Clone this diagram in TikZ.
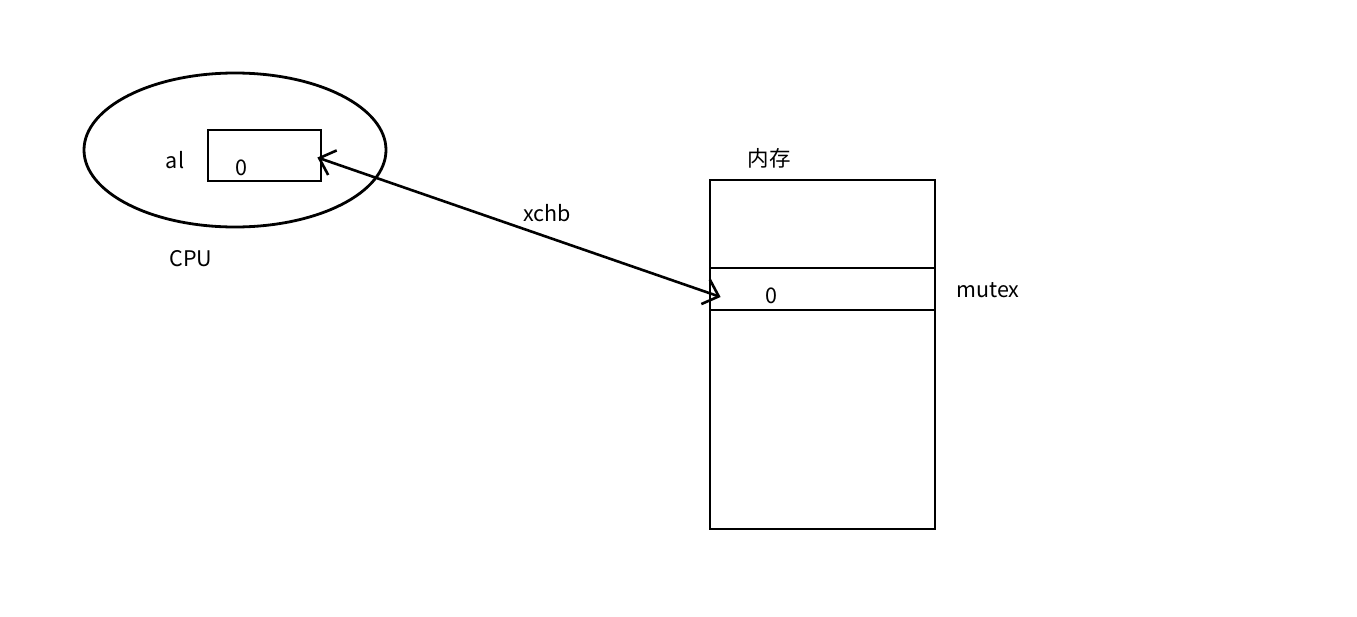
\documentclass[tikz,border=0pt]{standalone}
\usepackage{fontspec}
\setmainfont{Noto Sans CJK SC}
\usepackage{tikz}
\usetikzlibrary{arrows.meta,calc}

\begin{document}
\begin{tikzpicture}[x=1pt, y=-1pt,
  % ── node styles ──────────────────────────────────────────────────────────
  reg/.style={
    draw=black, line width=2.8pt,
    rectangle, minimum width=113pt, minimum height=51pt,
    inner sep=0pt
  },
  mem/.style={
    draw=black, line width=2.8pt,
    rectangle, minimum width=225pt, minimum height=349pt,
    inner sep=0pt
  },
  slot/.style={
    draw=black, line width=2.8pt,
    rectangle, minimum width=225pt, minimum height=42pt,
    inner sep=0pt
  },
  lbl/.style={
    font=\fontsize{21.5}{25}\selectfont, text=black, inner sep=0pt
  },
  % exchange connector with barb tips on both ends
  xch/.style={
    draw=black, line width=2.6pt,
    {Straight Barb[length=14pt, width=26pt]}-{Straight Barb[length=14pt, width=26pt]}
  },
]

\useasboundingbox (0,0) rectangle (1357,616);

% ── CPU ─────────────────────────────────────────────────────────────────────
\draw[line width=2.8pt] (235,150) ellipse [x radius=151, y radius=77];
\node[reg] (al) at (264.5,155.5) {};
\node[lbl] (allbl) at (175,160) {al};
\node[lbl] (alval) at (241,168) {0};
\node[lbl] (cpu)   at (191,259) {CPU};

% ── Memory ──────────────────────────────────────────────────────────────────
\node[mem]  (ram)  at (822.5,354.5) {};
\node[slot] (mutexslot) at (822.5,289) {};
\node[lbl] (ramlbl)   at (769,158) {内存};
\node[lbl] (mutexval) at (771,296) {0};
\node[lbl] (mutexlbl) at (988,290) {mutex};

% ── Exchange connector ──────────────────────────────────────────────────────
\coordinate (src) at ($(al.east)+(-5,2)$);
\coordinate (dst) at ($(mutexslot.west)+(12,8)$);
\draw[xch] (src) -- node[lbl, pos=0.57, above=14pt, sloped=false] {xchb} (dst);

\end{tikzpicture}
\end{document}
